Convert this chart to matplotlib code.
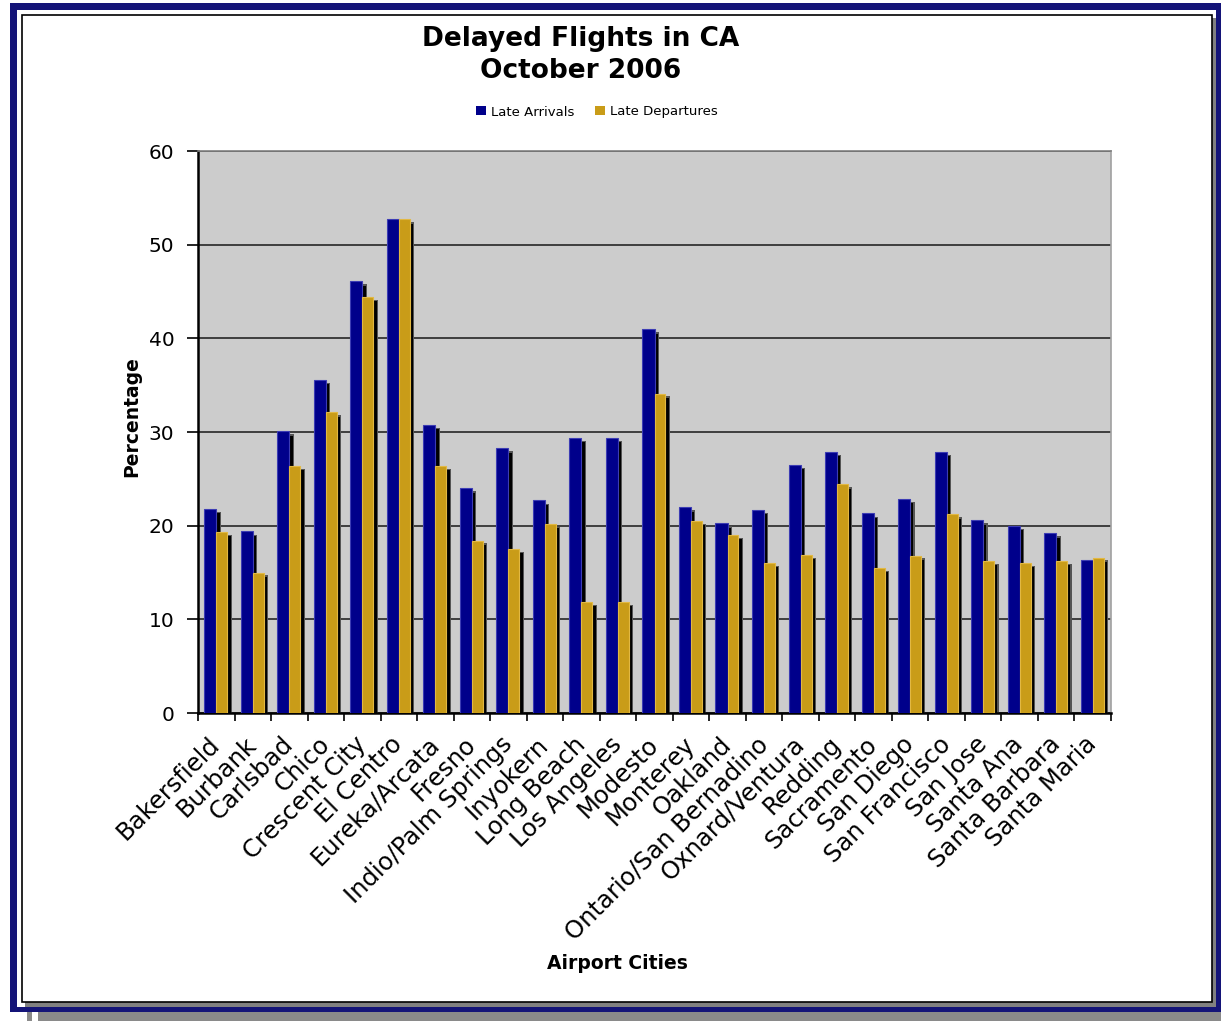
import numpy as np
import matplotlib

matplotlib.use("Agg")
import matplotlib.pyplot as plt
from matplotlib.patches import Rectangle, Patch

# ── Data ─────────────────────────────────────────────────────────────────

cities = [
    "Bakersfield", "Burbank", "Carlsbad", "Chico", "Crescent City", "El Centro",
    "Eureka/Arcata", "Fresno", "Indio/Palm Springs", "Inyokern", "Long Beach",
    "Los Angeles", "Modesto", "Monterey", "Oakland", "Ontario/San Bernadino",
    "Oxnard/Ventura", "Redding", "Sacramento", "San Diego", "San Francisco",
    "San Jose", "Santa Ana", "Santa Barbara", "Santa Maria",
]
late_arrivals = [
    21.8, 19.4, 30.1, 35.6, 46.1, 52.7, 30.8, 24.0, 28.3, 22.7, 29.4, 29.4,
    41.0, 22.0, 20.3, 21.7, 26.5, 27.9, 21.3, 22.9, 27.9, 20.6, 20.0, 19.2, 16.3,
]
late_departures = [
    19.3, 15.0, 26.4, 32.1, 44.4, 52.7, 26.4, 18.4, 17.5, 20.2, 11.85, 11.85,
    34.1, 20.5, 19.0, 16.0, 16.9, 24.4, 15.5, 16.8, 21.2, 16.2, 16.0, 16.2, 16.6,
]
y_ticks = [0, 10, 20, 30, 40, 50, 60]

NAVY = "#00008b"
GOLD = "#c99c18"
FRAME = "#141478"

W, H = 1221, 1021


def px_rect(x0, y0, x1, y1, **kw):
    """Rectangle given in pixel coords measured from the top-left corner."""
    return Rectangle((x0 / W, 1 - y1 / H), (x1 - x0) / W, (y1 - y0) / H,
                     transform=fig.transFigure, **kw)


fig = plt.figure(figsize=(W / 100, H / 100), dpi=100)
fig.patch.set_facecolor("white")

# ── Outer frame with drop shadow ─────────────────────────────────────────
fig.add_artist(px_rect(38, 1012, 1221, 1021, facecolor="#8a8a8a", lw=0, zorder=-5))
fig.add_artist(px_rect(27, 1012, 32, 1021, facecolor="#8a8a8a", lw=0, zorder=-5))
fig.add_artist(px_rect(10, 3, 1221, 1012, facecolor=FRAME, lw=0, zorder=-5))
fig.add_artist(px_rect(17, 10, 1216, 1006.5, facecolor="white", lw=0, zorder=-4))
fig.add_artist(px_rect(25, 18, 1216, 1006.5, facecolor="#808080", lw=0, zorder=-3))
fig.add_artist(px_rect(22, 15, 1212, 1002, facecolor="white", edgecolor="black",
                       lw=1.2, zorder=-2))

# ── Plot area ────────────────────────────────────────────────────────────
ax = fig.add_axes([198 / W, 1 - 713 / H, 913 / W, 562 / H])
ax.set_facecolor("#cccccc")

n = len(cities)
x = np.arange(n)
arr = np.array(late_arrivals)
dep = np.array(late_departures)
bw_a, bw_d, off = 0.33, 0.30, 0.09

# soft shadows behind each bar
ax.bar(x - bw_a + off, arr - 0.35, width=bw_a + 0.03, align="edge", color="#555555", zorder=2)
ax.bar(x - bw_a + off, arr - 0.5, width=bw_a, align="edge", color="black", zorder=2)
ax.bar(x + off, dep - 0.3, width=bw_d + 0.03, align="edge", color="#555555", zorder=2)
ax.bar(x + off, dep - 0.45, width=bw_d, align="edge", color="black", zorder=2)

ax.bar(x - bw_a, arr, width=bw_a, align="edge", color=NAVY, edgecolor="#3c3cb4",
       lw=0.8, zorder=3)
ax.bar(x, dep, width=bw_d, align="edge", color=GOLD, edgecolor="#e2b842",
       lw=0.8, zorder=3)

ax.set_xlim(-0.5, n - 0.5)
ax.set_ylim(0, 60)
ax.set_yticks(y_ticks)
ax.yaxis.grid(True, color="#333333", lw=1.3)
ax.set_axisbelow(True)

ax.tick_params(axis="y", direction="out", length=8, width=1.2, labelsize=14.5, pad=9)
ax.set_xticks(x)
ax.set_xticklabels(cities, rotation=45, ha="right", va="center",
                   rotation_mode="anchor", fontsize=17.5)
ax.tick_params(axis="x", which="major", length=0, pad=20)
ax.set_xticks(np.arange(n + 1) - 0.5, minor=True)
ax.tick_params(axis="x", which="minor", direction="out", length=6, width=1.2)

for side in ("left", "bottom"):
    ax.spines[side].set_color("black")
    ax.spines[side].set_linewidth(1.8)
ax.spines["top"].set_color("#808080")
ax.spines["right"].set_color("#a0a0a0")
ax.spines["top"].set_linewidth(1.2)
ax.spines["right"].set_linewidth(1.2)

# ── Text ─────────────────────────────────────────────────────────────────
fig.text(581 / W, 1 - 55 / H, "Delayed Flights in CA\nOctober 2006", ha="center",
         va="center", fontsize=19, fontweight="bold", linespacing=1.25)
fig.text(132 / W, 1 - 417 / H, "Percentage", rotation=90, ha="center", va="center",
         fontsize=13.5, fontweight="bold")
fig.text(617 / W, 1 - 963 / H, "Airport Cities", ha="center", va="center",
         fontsize=13.5, fontweight="bold")

handles = [Patch(facecolor=NAVY, label="Late Arrivals"),
           Patch(facecolor=GOLD, label="Late Departures")]
fig.legend(handles=handles, loc="center", bbox_to_anchor=(597 / W, 1 - 112 / H),
           ncol=2, frameon=False, fontsize=9.5, handlelength=0.7, handleheight=0.7,
           handletextpad=0.4, columnspacing=1.6)

fig.savefig("out.png", dpi=100)
